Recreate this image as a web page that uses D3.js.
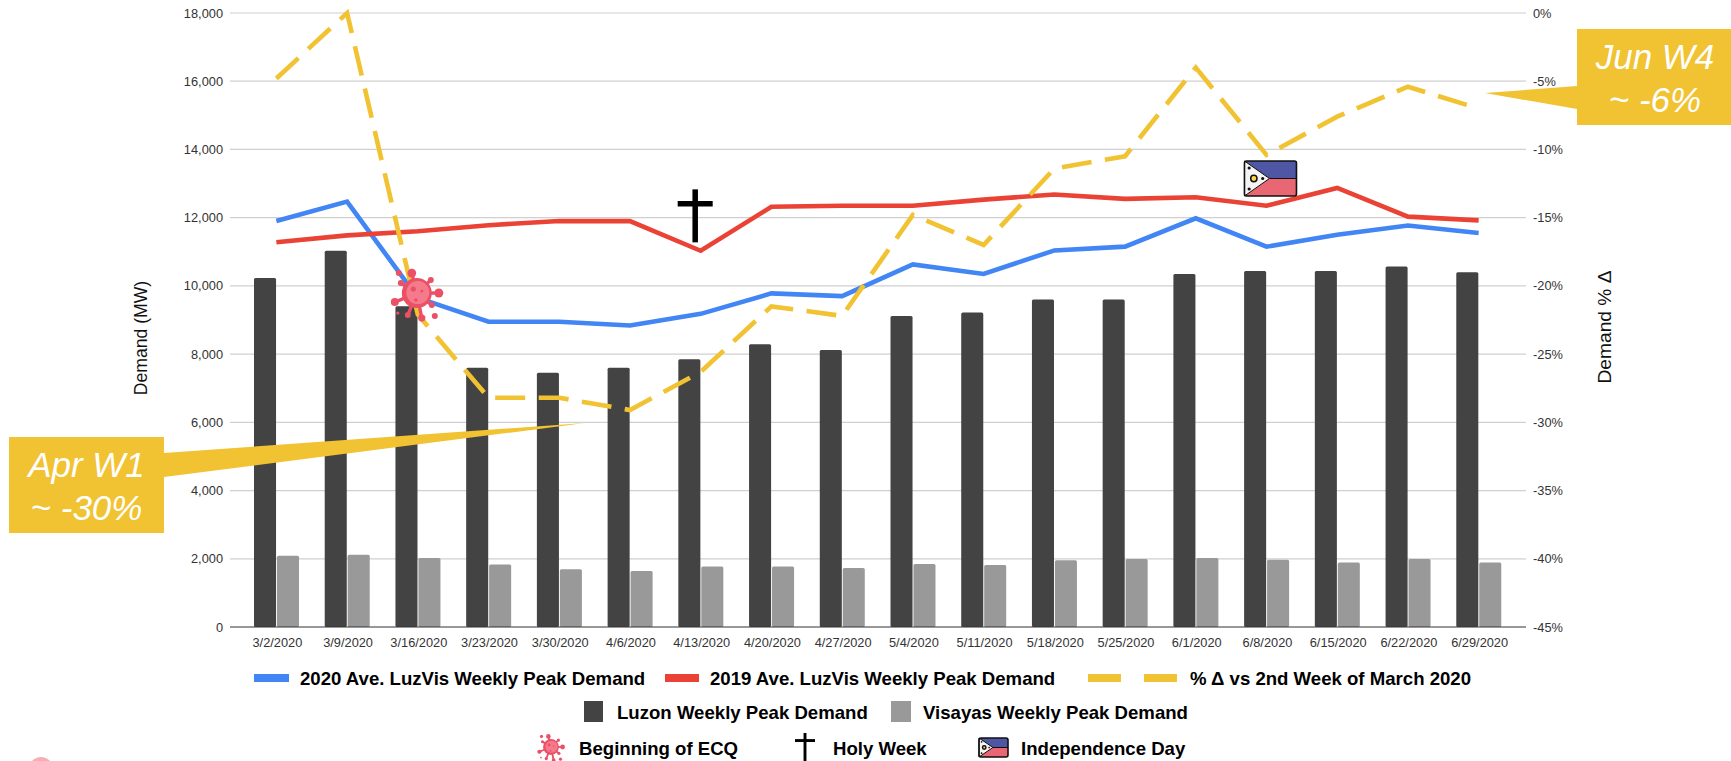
<!DOCTYPE html>
<html>
<head>
<meta charset="utf-8">
<script src="https://cdnjs.cloudflare.com/ajax/libs/d3/7.8.5/d3.min.js"></script>
<style>
	html, body { margin: 0; padding: 0; background: #fff; overflow: hidden; }
	text { font-family: "Liberation Sans", Arial, sans-serif; }
	.axis text { font-size: 12.8px; fill: #333; }
	.axis .domain { display: none; }
	.axis line { display: none; }
	.legend text { font-size: 18.6px; font-weight: bold; fill: #000; }
	.callout text { font-size: 35px; font-style: italic; fill: #fff; text-anchor: middle; }
</style>
</head>
<body>
<svg id="chart" width="1731" height="761"></svg>
<script>
// values
var weeks = ["3/2/2020", "3/9/2020", "3/16/2020", "3/23/2020", "3/30/2020", "4/6/2020", "4/13/2020", "4/20/2020", "4/27/2020",
	"5/4/2020", "5/11/2020", "5/18/2020", "5/25/2020", "6/1/2020", "6/8/2020", "6/15/2020", "6/22/2020", "6/29/2020"];
var luzon = [10230, 11030, 9400, 7600, 7450, 7600, 7850, 8290, 8120, 9120, 9220, 9600, 9600, 10350, 10440, 10440, 10570, 10400];
var visayas = [2090, 2120, 2020, 1830, 1690, 1640, 1770, 1770, 1730, 1850, 1820, 1960, 1990, 2020, 1970, 1890, 1990, 1890];
var demand2020 = [11900, 12470, 9650, 8950, 8950, 8840, 9180, 9780, 9700, 10630, 10350, 11040, 11150, 11980, 11150, 11500, 11770, 11550];
var demand2019 = [11280, 11480, 11600, 11780, 11900, 11900, 11030, 12320, 12350, 12350, 12530, 12680, 12550, 12600, 12350, 12870, 12030, 11920];
var pctChange = [-4.8, 0, -22.1, -28.2, -28.2, -29.1, -26.3, -21.5, -22.2, -14.8, -17, -11.4, -10.5, -4, -10.4, -7.6, -5.4, -7];
var leftTicks = [0, 2000, 4000, 6000, 8000, 10000, 12000, 14000, 16000, 18000];
var rightTicks = [0, -5, -10, -15, -20, -25, -30, -35, -40, -45];

var BLUE = "#4285f4", RED = "#ea4335", YELLOW = "#f1c232", DARK = "#434343", GREY = "#999999";
var DASH = "30,13.5";

var svg = d3.select("#chart");

var xScale = d3.scaleBand().domain(weeks).range([241, 1514]);
var barScale = d3.scaleBand().domain(["luzon", "visayas"]).range([13, 58]).paddingInner(0.04);
var yScale = d3.scaleLinear().domain([0, 18000]).range([627, 13]);
var pctScale = d3.scaleLinear().domain([-45, 0]).range([627, 13]);

function cx(i) { return xScale(weeks[i]) + xScale.bandwidth() / 2; }

/***************************************************************************
 * GRID AND AXES
 **************************************************************************/
svg.append("g").selectAll("line")
	.data(leftTicks.slice(1))
	.enter()
	.append("line")
		.attr("x1", 230).attr("x2", 1526)
		.attr("y1", function(d) { return yScale(d); })
		.attr("y2", function(d) { return yScale(d); })
		.style("stroke", "#d0d0d0")
		.style("stroke-width", 1.2);

svg.append("g")
	.attr("class", "axis")
	.attr("transform", "translate(230,0)")
	.call(d3.axisLeft(yScale).tickValues(leftTicks).tickSize(0).tickPadding(7).tickFormat(d3.format(",")));

svg.append("g")
	.attr("class", "axis")
	.attr("transform", "translate(1526,0)")
	.call(d3.axisRight(pctScale).tickValues(rightTicks).tickSize(0).tickPadding(7).tickFormat(function(d) { return d + "%"; }));

svg.append("g")
	.attr("class", "axis")
	.attr("transform", "translate(1,627)")
	.call(d3.axisBottom(xScale).tickSize(0).tickPadding(11));

svg.append("text")
	.attr("transform", "translate(147,338) rotate(-90)")
	.style("text-anchor", "middle")
	.style("font-size", "17.6px")
	.style("fill", "#111")
	.text("Demand (MW)");

svg.append("text")
	.attr("transform", "translate(1611,327) rotate(-90)")
	.style("text-anchor", "middle")
	.style("font-size", "19.2px")
	.style("fill", "#111")
	.text("Demand % \u0394");

/***************************************************************************
 * BARS
 **************************************************************************/
function drawBars(values, key, color)
{
	svg.append("g").selectAll("rect")
		.data(values)
		.enter()
		.append("rect")
			.attr("x", function(d, i) { return xScale(weeks[i]) + barScale(key); })
			.attr("y", function(d) { return yScale(d); })
			.attr("width", barScale.bandwidth())
			.attr("height", function(d) { return yScale(0) - yScale(d); })
			.attr("rx", 1.5)
			.style("fill", color);
}

drawBars(luzon, "luzon", DARK);
drawBars(visayas, "visayas", GREY);

svg.append("line")
	.attr("x1", 230).attr("x2", 1526)
	.attr("y1", yScale(0)).attr("y2", yScale(0))
	.style("stroke", "#333")
	.style("stroke-width", 1.2);

/***************************************************************************
 * LINES
 **************************************************************************/
function drawLine(values, scale, color, dash)
{
	var line = d3.line()
		.x(function(d, i) { return cx(i); })
		.y(function(d) { return scale(d); });

	svg.append("path")
		.datum(values)
		.attr("d", line)
		.style("fill", "none")
		.style("stroke", color)
		.style("stroke-width", 4.6)
		.style("stroke-linejoin", "miter")
		.style("stroke-dasharray", dash || null);
}

drawLine(demand2020, yScale, BLUE);
drawLine(demand2019, yScale, RED);
drawLine(pctChange, pctScale, YELLOW, DASH);

/***************************************************************************
 * CALLOUTS
 **************************************************************************/
function drawCallout(box, pointer, lines)
{
	var g = svg.append("g").attr("class", "callout");

	g.append("polygon")
		.attr("points", pointer.join(" "))
		.style("fill", YELLOW);

	g.append("rect")
		.attr("x", box.x).attr("y", box.y)
		.attr("width", box.w).attr("height", box.h)
		.style("fill", YELLOW);

	g.selectAll("text")
		.data(lines)
		.enter()
		.append("text")
			.attr("x", box.x + box.w / 2)
			.attr("y", function(d, i) { return box.y + 40 + i * 42.5; })
			.text(function(d) { return d; });
}

drawCallout({x: 9, y: 437, w: 155, h: 96}, [[164, 453], [585, 423], [164, 477]], ["Apr W1", "~ -30%"]);
drawCallout({x: 1577, y: 29, w: 156, h: 96}, [[1577, 86], [1485, 93], [1577, 109]], ["Jun W4", "~ -6%"]);

/***************************************************************************
 * ICONS
 **************************************************************************/
function drawVirus(x, y, size)
{
	var k = size / 53;
	var g = svg.append("g").attr("transform", "translate(" + x + "," + y + ") scale(" + k + ")");
	var color = "#ea5167";
	var spikes = [[-5, -20, 4.4], [14, -13, 3], [22, 0, 4.5], [-22, 9, 4], [-16, -10, 3], [-9, 22, 3], [5, 25, 3.6], [15, 12, 3]];
	var specks = [[-18, -20, 3], [18, 23, 3], [-19, 20, 1.6]];

	spikes.forEach(function(s)
	{
		g.append("line")
			.attr("x1", 0).attr("y1", 0)
			.attr("x2", s[0]).attr("y2", s[1])
			.style("stroke", color)
			.style("stroke-width", 3.4);
		g.append("circle").attr("cx", s[0]).attr("cy", s[1]).attr("r", s[2]).style("fill", color);
	});

	specks.forEach(function(s)
	{
		g.append("circle").attr("cx", s[0]).attr("cy", s[1]).attr("r", s[2]).style("fill", color);
	});

	g.append("circle").attr("r", 15).style("fill", color);
	g.append("circle").attr("cx", 1).attr("cy", -0.5).attr("r", 11.5).style("fill", "#f57b8c");
	g.append("circle").attr("cx", -3.5).attr("cy", -4).attr("r", 2.6).style("fill", color);
	g.append("circle").attr("cx", 5).attr("cy", -2).attr("r", 1.5).style("fill", color);
	g.append("circle").attr("cx", -1).attr("cy", 7).attr("r", 1.8).style("fill", color);
}

function drawDagger(x, top, h, w)
{
	var g = svg.append("g").style("stroke", "#000").style("stroke-width", h / 9.6);
	g.append("line").attr("x1", x).attr("x2", x).attr("y1", top).attr("y2", top + h);
	g.append("line").attr("x1", x - w / 2).attr("x2", x + w / 2).attr("y1", top + h * 0.27).attr("y2", top + h * 0.27);
}

function drawFlag(x, y, w, h)
{
	var g = svg.append("g").attr("transform", "translate(" + x + "," + y + ")");
	var mid = h / 2;
	g.append("rect").attr("width", w).attr("height", mid).style("fill", "#4f57a5");
	g.append("rect").attr("y", mid).attr("width", w).attr("height", mid).style("fill", "#e96673");
	g.append("polygon")
		.attr("points", [[0, 0], [w * 0.48, mid], [0, h]].join(" "))
		.style("fill", "#f4f4f4")
		.style("stroke", "#111")
		.style("stroke-width", 1);
	g.append("line")
		.attr("x1", w * 0.48).attr("x2", w)
		.attr("y1", mid).attr("y2", mid)
		.style("stroke", "#111").style("stroke-width", 1);
	g.append("circle")
		.attr("cx", w * 0.18).attr("cy", mid).attr("r", h * 0.09)
		.style("fill", "#ffd54a").style("stroke", "#111").style("stroke-width", 1.5);
	[[0.09, 0.2], [0.09, 0.8], [0.35, 0.5]].forEach(function(p)
	{
		g.append("circle")
			.attr("cx", w * p[0]).attr("cy", h * p[1]).attr("r", h * 0.045)
			.style("fill", "#111");
	});
	g.append("rect")
		.attr("width", w).attr("height", h).attr("rx", 2)
		.style("fill", "none").style("stroke", "#111").style("stroke-width", 1.6);
}

drawVirus(cx(2) - 1, yScale(9790), 53);
drawDagger(cx(6) - 5.5, yScale(12830), 53, 35);
drawFlag(cx(14) - 22, 161, 52, 35);

/***************************************************************************
 * LEGEND
 **************************************************************************/
var legend = svg.append("g").attr("class", "legend");

function legendSwatch(x, w, y, h, color)
{
	legend.append("rect")
		.attr("x", x).attr("y", y)
		.attr("width", w).attr("height", h)
		.style("fill", color);
}

function legendText(x, y, label)
{
	legend.append("text").attr("x", x).attr("y", y).text(label);
}

legendSwatch(254, 35, 674, 8, BLUE);
legendText(300, 684.5, "2020 Ave. LuzVis Weekly Peak Demand");
legendSwatch(665, 34, 674, 8, RED);
legendText(710, 684.5, "2019 Ave. LuzVis Weekly Peak Demand");
legendSwatch(1088, 33, 674, 8, YELLOW);
legendSwatch(1144, 33, 674, 8, YELLOW);
legendText(1190, 684.5, "% \u0394 vs 2nd Week of March 2020");

legendSwatch(584, 19, 701, 21, DARK);
legendText(617, 718.5, "Luzon Weekly Peak Demand");
legendSwatch(891, 20, 701, 21, GREY);
legendText(923, 718.5, "Visayas Weekly Peak Demand");

drawVirus(551, 747, 28);
legendText(579, 754.5, "Beginning of ECQ");
drawDagger(805, 733, 28, 20);
legendText(833, 754.5, "Holy Week");
drawFlag(979, 738, 29, 19);
legendText(1021, 754.5, "Independence Day");

// clipped pink circle in the bottom left corner
svg.append("circle")
	.attr("cx", 41).attr("cy", 769).attr("r", 12)
	.style("fill", "#f7aeb3");
</script>
</body>
</html>
